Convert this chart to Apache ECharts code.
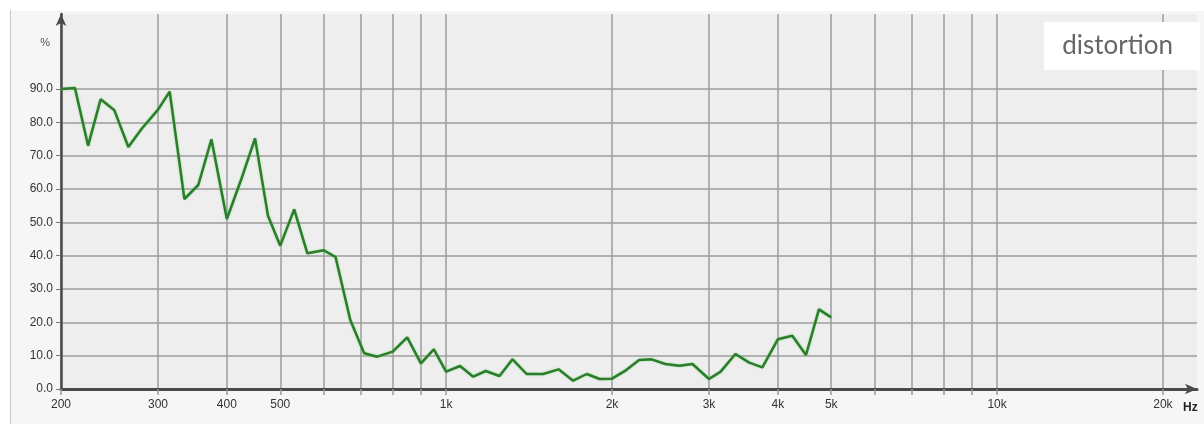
<!DOCTYPE html>
<html>
<head>
<meta charset="utf-8">
<script src="https://cdn.jsdelivr.net/npm/echarts@6/dist/echarts.min.js"></script>
<style>
html,body{margin:0;padding:0;background:#ffffff;}
#chart{width:1204px;height:424px;}
</style>
</head>
<body>
<div id="chart"></div>
<script>
// Frequencies (Hz) (R40 steps, 200 Hz .. 5 kHz)
var frequencies = [200, 212, 224, 236, 250, 265, 280, 300, 315, 335, 355, 375, 400, 425, 450, 475, 500, 530, 560, 600, 630, 670, 710, 750, 800, 850, 900, 950, 1000, 1060, 1120, 1180, 1250, 1320, 1400, 1500, 1600, 1700, 1800, 1900, 2000, 2120, 2240, 2360, 2500, 2650, 2800, 3000, 3150, 3350, 3550, 3750, 4000, 4250, 4500, 4750, 5000];
// Distortion (%)
var distortion = [90.0, 90.3, 73.0, 86.9, 83.6, 72.6, 78.0, 83.8, 89.2, 57.0, 61.2, 74.9, 51.0, 63.0, 75.2, 52.0, 43.0, 53.9, 40.7, 41.6, 39.6, 20.7, 10.7, 9.7, 11.2, 15.5, 7.7, 11.9, 5.2, 6.9, 3.7, 5.4, 3.9, 8.9, 4.5, 4.5, 5.9, 2.5, 4.5, 3.0, 3.1, 5.6, 8.7, 8.9, 7.5, 7.0, 7.5, 3.0, 5.2, 10.5, 7.9, 6.5, 14.9, 16.0, 10.2, 23.9, 21.5];
// Axis ticks
var xGridTicks = [200, 300, 400, 500, 600, 700, 800, 900, 1000, 2000, 3000, 4000, 5000, 6000, 7000, 8000, 9000, 10000, 20000];
var xLabelTicks = [200, 300, 400, 500, 1000, 2000, 3000, 4000, 5000, 10000, 20000];
var yTicks = [0, 10, 20, 30, 40, 50, 60, 70, 80, 90];

var seriesData = frequencies.map(function (f, i) { return [f, distortion[i]]; });

var chart = echarts.init(document.getElementById('chart'));
chart.setOption({
  animation: false,
  backgroundColor: '#ffffff',
  graphic: [
    { type: 'rect', z: -10, silent: true, shape: { x: 11, y: 11, width: 1193, height: 413 }, style: { fill: '#f6f6f6' } },
    { type: 'line', z: -9, silent: true, shape: { x1: 10.5, y1: 10, x2: 10.5, y2: 424 }, style: { stroke: '#c8c8c8', lineWidth: 1 } }
  ],
  title: {
    text: 'distortion',
    right: 4,
    top: 22,
    backgroundColor: '#ffffff',
    padding: [9, 27, 9, 18],
    textStyle: { color: '#666666', fontSize: 26, lineHeight: 30, fontWeight: 'normal', fontFamily: 'Lato' }
  },
  grid: {
    left: 61, right: 7, top: 14, bottom: 35,
    show: true, backgroundColor: '#eeeeee', borderWidth: 0
  },
  xAxis: {
    type: 'log',
    logBase: 10,
    min: 200,
    max: 23060,
    name: 'Hz',
    nameLocation: 'end',
    nameGap: -14,
    nameTextStyle: { color: '#222', fontSize: 12, fontWeight: 'bold', fontFamily: 'Liberation Sans', align: 'left', verticalAlign: 'top', padding: [13, 0, 0, 0] },
    axisLine: { show: true, symbol: ['none', 'arrow'], symbolSize: [8, 12], lineStyle: { color: '#4a4a4a', width: 3 } },
    axisTick: { show: true, length: 6, customValues: xGridTicks, lineStyle: { color: '#999999', width: 1.5 } },
    axisLabel: {
      customValues: xLabelTicks,
      margin: 10,
      color: '#333',
      fontSize: 12,
      fontFamily: 'Liberation Sans',
      formatter: function (v) { return v >= 1000 ? (Math.round(v / 1000) + 'k') : String(Math.round(v)); }
    },
    splitLine: { show: true, lineStyle: { color: '#9c9c9c', width: 1.5 } },
    minorSplitLine: { show: false }
  },
  yAxis: {
    type: 'value',
    min: 0,
    max: 112.5,
    name: '%',
    nameLocation: 'end',
    nameGap: -34,
    nameTextStyle: { color: '#555', fontSize: 11, fontFamily: 'Liberation Sans', align: 'right', padding: [0, 11, 0, 0] },
    axisLine: { show: true, symbol: ['none', 'arrow'], symbolSize: [8, 12], lineStyle: { color: '#4a4a4a', width: 2.5 } },
    axisTick: { show: true, length: 5, customValues: yTicks, lineStyle: { color: '#777', width: 1 } },
    axisLabel: {
      customValues: yTicks,
      margin: 8,
      color: '#333',
      fontSize: 12,
      fontFamily: 'Liberation Sans',
      formatter: function (v) { return v.toFixed(1); }
    },
    splitLine: { show: true, lineStyle: { color: '#9c9c9c', width: 1.5 } }
  },
  series: [{
    type: 'line',
    name: 'distortion',
    data: seriesData,
    showSymbol: false,
    symbol: 'none',
    lineStyle: { color: '#2b7d2b', width: 2.5, shadowColor: 'rgba(110,210,110,0.7)', shadowBlur: 2 },
    z: 5
  }]
});
</script>
</body>
</html>
